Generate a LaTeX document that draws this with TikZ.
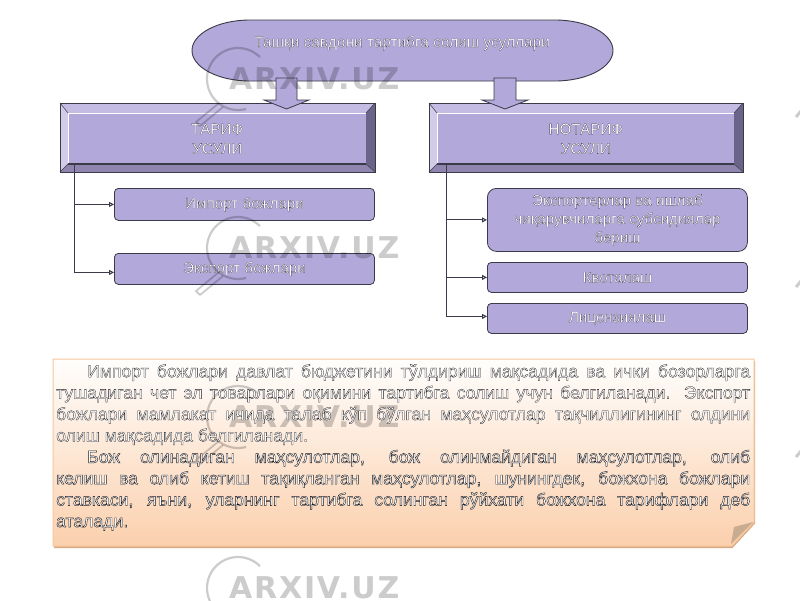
\documentclass[tikz,border=0pt]{standalone}
\usepackage{fontspec}
\setmainfont{Liberation Sans}
\usetikzlibrary{arrows.meta,calc}
\definecolor{lila}{HTML}{B3A8DA}
\definecolor{lilaT}{HTML}{C4BCE2}
\definecolor{lilaL}{HTML}{D2CCEA}
\definecolor{lilaR}{HTML}{6C6488}
\definecolor{lilaB}{HTML}{9085AE}
\definecolor{edge}{HTML}{3A3A48}
\definecolor{noteTop}{HTML}{FFFEFD}
\definecolor{noteBot}{HTML}{FBD0AD}
\definecolor{noteEdge}{HTML}{F6C79C}
\definecolor{noteShade}{HTML}{D9A982}
\definecolor{foldc}{HTML}{C9AB90}
\newcommand{\halo}{\special{pdf:code 2 Tr 0.13 w 0.1 0.1 0.14 RG 1 1 1 rg}}
\newcommand{\haloN}{\special{pdf:code 2 Tr 0.28 w 0.1 0.1 0.12 RG 1 1 1 rg}}
\newcommand{\haloB}{\special{pdf:code 2 Tr 0.4 w 0.1 0.1 0.12 RG 1 1 1 rg}}
\tikzset{
  x=1pt,y=-1pt,
  txt/.style={font=\fontsize{15.4}{18.6}\selectfont,align=center,inner sep=0pt},
  itembox/.style={draw=edge,line width=.8pt,fill=lila,rounded corners=4pt,minimum width=260pt,anchor=north west,inner sep=0pt,align=center,font=\fontsize{15.2}{18.6}\selectfont},
  branch/.style={draw=edge,line width=1pt,-{Triangle[open,fill=white,length=5pt,width=5pt]}},
  blockarrow/.style={draw=edge,line width=.8pt,fill=lila,line join=miter},
  wm/.style={draw=black,opacity=.2,line width=2.2pt},
  wmtext/.style={text=black,opacity=.2,inner sep=0pt}
}
\newfontfamily\wmfont[LetterSpace=6]{DejaVu Sans}
\newcommand{\bevelbox}[6]{%
  \fill[lilaT] (#2,#3)--(#4,#3)--(#4-9,#3+10)--(#2+8,#3+10)--cycle;
  \fill[lilaL] (#2,#3)--(#2+8,#3+10)--(#2+8,#5-8)--(#2,#5)--cycle;
  \fill[lilaR] (#4,#3)--(#4,#5)--(#4-9,#5-8)--(#4-9,#3+10)--cycle;
  \fill[lilaB] (#2,#5)--(#4,#5)--(#4-9,#5-8)--(#2+8,#5-8)--cycle;
  \draw[edge,line width=1pt] (#2,#3) rectangle (#4,#5);
  \draw[edge,line width=.5pt] (#2,#3)--(#2+8,#3+10) (#4,#3)--(#4-9,#3+10) (#2,#5)--(#2+8,#5-8) (#4,#5)--(#4-9,#5-8);
  \node[fill=lila,draw=none,minimum width=#4-#2-17,minimum height=#5-#3-18,anchor=north west,inner sep=0pt,align=center,font=\fontsize{15.2}{19.5}\selectfont] (#1) at (#2+8,#3+10) {\halo #6};
  \draw[white,line width=.8pt] (#2+8,#5-8)--(#2+8,#3+10)--(#4-9,#3+10);
  \draw[edge,line width=1.2pt] (#2+8,#5-8)--(#4-9,#5-8);
}
\newcommand{\watermark}[3]{%
  \begin{scope}[shift={(#1,#2)}]
    \draw[wm] plot[smooth,domain=45:285,samples=40] ({31*cos(\x)},{-31*sin(\x)});
    \draw[wm,line width=1.8pt,line join=round] (-19,24)--(-42,43)--(-38,47)--(-15,28);
    \node[wmtext,anchor=west,font=\wmfont\bfseries\fontsize{30}{30}\selectfont] (#3) at (-9,0) {ARXIV.UZ};
  \end{scope}}
\begin{document}
\begin{tikzpicture}
\useasboundingbox (0,0) rectangle (800,600);
\fill[white] (0,0) rectangle (800,600);

% title pill
\draw[fill=lila,draw=edge,line width=.9pt]
  (250,20)--(555,20) .. controls (587,20) and (613,33.7) .. (613,50.5)
  .. controls (613,67.3) and (587,81) .. (555,81)
  --(250,81) .. controls (218,81) and (192,67.3) .. (192,50.5)
  .. controls (192,33.7) and (218,20) .. (250,20)--cycle;
\node[txt] (title) at (402,43) {\halo Ташқи савдони тартибга солиш усуллари};

% bevel boxes
\bevelbox{tarif}{60}{103}{375}{172}{ТАРИФ\\УСУЛИ}
\bevelbox{notarif}{429}{103}{743}{172}{НОТАРИФ\\УСУЛИ}

% block arrows
\draw[blockarrow] (276,78)--(297,78)--(297,100)--(309,100)--(286.5,109)--(264,100)--(276,100)--cycle;
\draw[blockarrow] (494,78)--(516,78)--(516,100)--(528,100)--(505,109)--(482,100)--(494,100)--cycle;

% items
\node[itembox,minimum height=32pt] (imp) at (114,188) {\raisebox{2.5pt}{\halo Импорт божлари}};
\node[itembox,minimum height=31pt] (exp) at (114,253) {\raisebox{1.5pt}{\halo Экспорт божлари}};
\node[itembox,minimum height=63pt,rounded corners=9pt] (sub) at (487,188) {\halo Экспортерлар ва ишлаб\\\halo чиқарувчиларга субсидиялар\\\halo бериш};
\node[itembox,minimum height=30pt] (kvo) at (487,262) {\halo Квоталаш};
\node[itembox,minimum height=30pt] (lic) at (487,303) {\halo Лицензиялаш};

% connectors
\coordinate (lt) at (74,164);
\coordinate (rt) at (446,164);
\draw[branch] (lt) |- (imp.west);
\draw[branch] (lt) |- ([yshift=-3.5pt]exp.west);
\draw[branch] (rt) |- (sub.west);
\draw[branch] (rt) |- (kvo.west);
\draw[branch] (rt) |- ([yshift=2pt]lic.west);

% note panel
\fill[noteShade] (54,361)--(755,361)--(755,523.5)--(732.5,548)--(54,548)--cycle;
\path[top color=noteTop,bottom color=noteBot,draw=noteEdge,line width=1pt]
  (53,359)--(754,359)--(754,522)--(732,546)--(53,546)--cycle;
\fill[foldc] (734,527)--(753,522)--(731,544)--cycle;

% watermarks
\watermark{238}{79}{wa}
\watermark{238}{248}{wb}
\watermark{238}{417}{wc}
\watermark{238}{588}{wd}
\draw[wm,line width=3pt] (801,111)--(796,117) (801,281)--(796,287) (801,451)--(796,457);

\node[inner sep=0pt,anchor=north west,text width=694pt,align=justify,
      font=\fontsize{17.6}{21.4}\selectfont] (note) at (56,364)
  {\haloN\parindent=31pt\emergencystretch=3em\hfuzz=8pt\relax
   \indent Импорт божлари давлат бюджетини тўлдириш мақсадида ва ички бозорларга\linebreak
   тушадиган чет эл товарлари оқимини тартибга солиш учун белгиланади. Экспорт\linebreak
   божлари мамлакат ичида талаб кўп бўлган маҳсулотлар тақчиллигининг олдини\linebreak
   олиш мақсадида белгиланади.\par\haloB
   \indent Бож олинадиган маҳсулотлар, бож олинмайдиган маҳсулотлар, олиб\linebreak
   келиш ва олиб кетиш тақиқланган маҳсулотлар, шунингдек, божхона божлари\linebreak
   ставкаси, яъни, уларнинг тартибга солинган рўйхати божхона тарифлари деб\linebreak
   аталади.\par};
\end{tikzpicture}
\end{document}
